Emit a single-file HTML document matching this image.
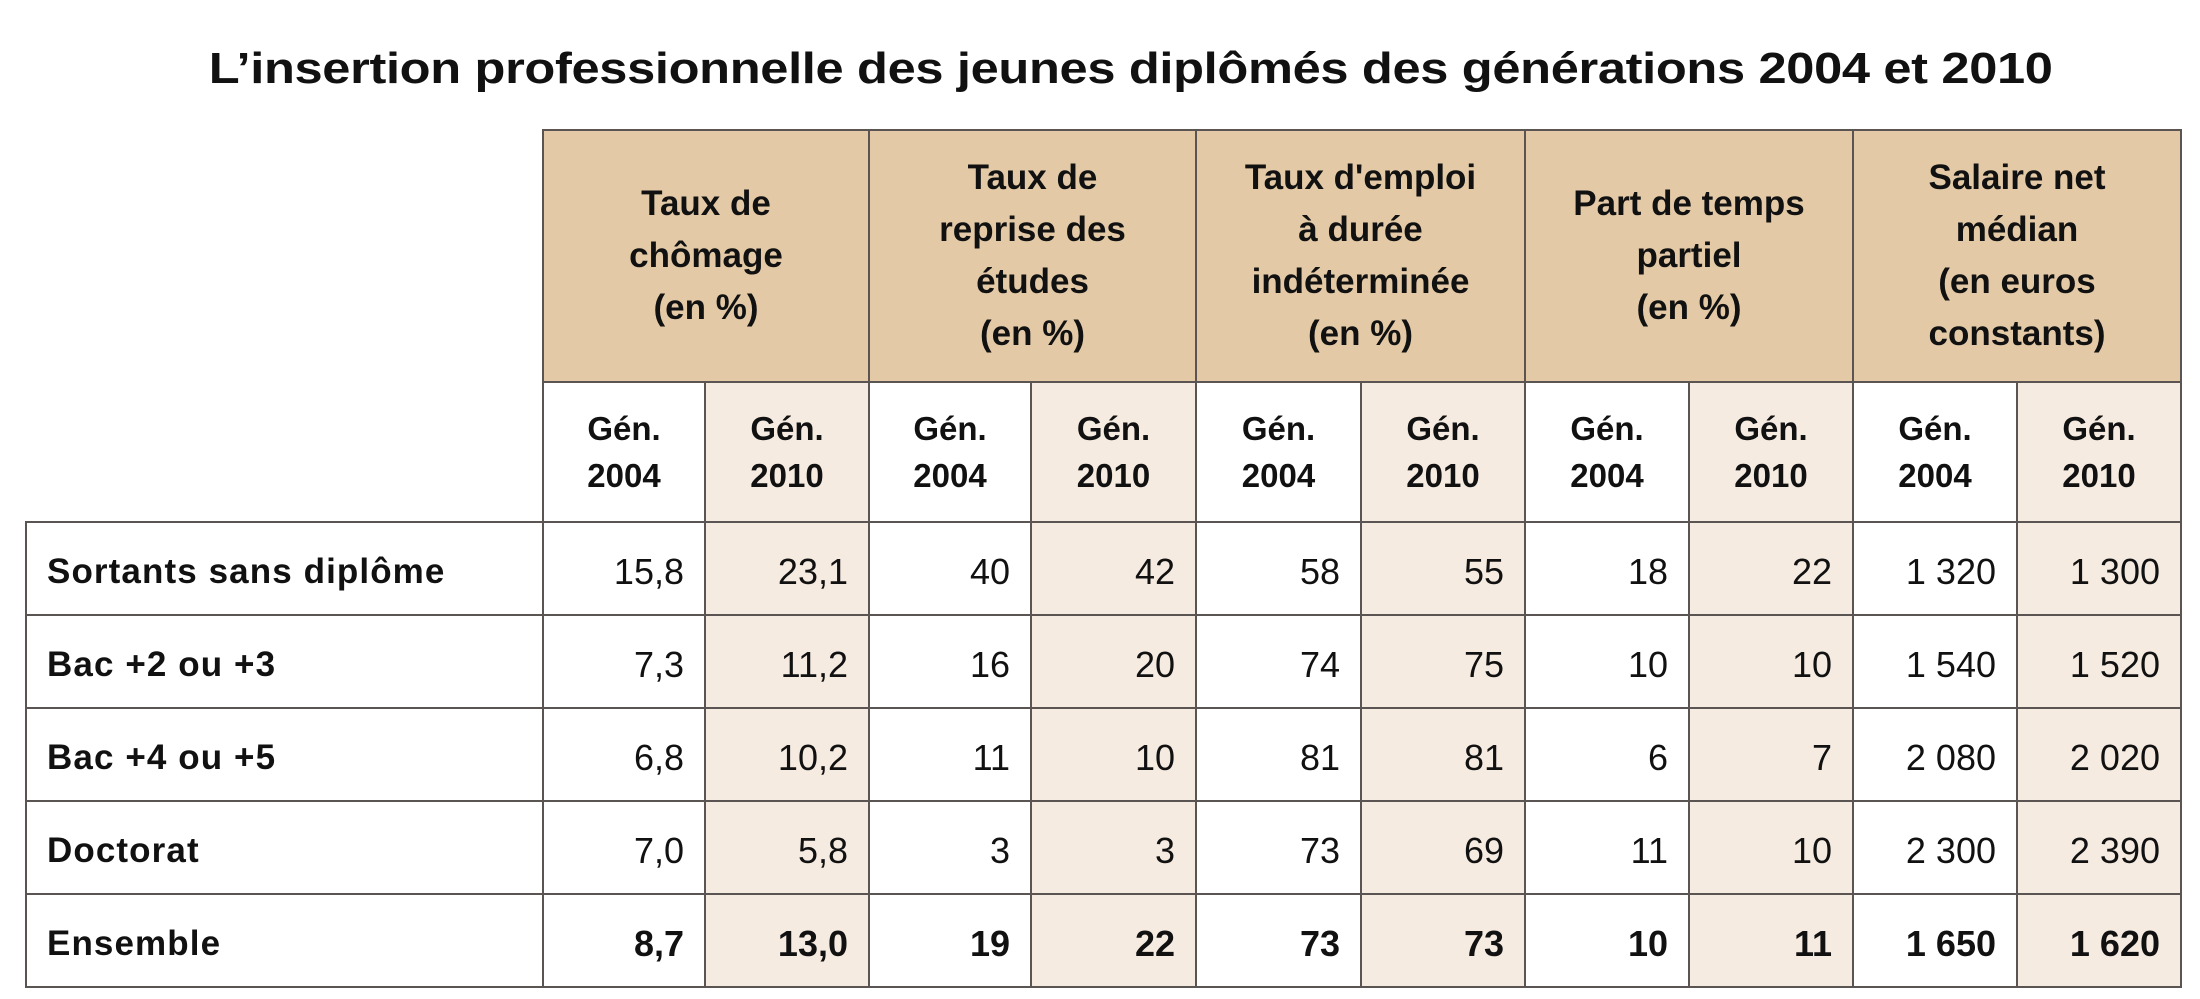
<!DOCTYPE html>
<html><head><meta charset="utf-8"><style>
html,body{margin:0;padding:0;background:#fff;width:2200px;height:999px;overflow:hidden;font-family:"Liberation Sans",Arial,sans-serif;}
h1{position:absolute;left:31px;top:44px;width:2200px;text-align:center;margin:0;font-size:44px;font-weight:bold;color:#111;}
h1 span{display:inline-block;transform:scaleX(1.15);letter-spacing:-0.3px;}
table{position:absolute;left:25px;top:129px;border-collapse:collapse;table-layout:fixed;}
td{border:2px solid #5a5552;padding:0;color:#111;}
.h{background:#e3c9a6;font-weight:bold;font-size:35px;line-height:52px;text-align:center;height:250px;}
.s{font-weight:bold;font-size:33px;line-height:47px;text-align:center;height:138px;}
.b{background:#f6ebe1;}
.v{text-align:right;padding-right:20px;font-size:36px;padding-top:6px;}
.l{font-weight:bold;font-size:35px;letter-spacing:1.1px;padding-left:20px;padding-top:6px;}
tr.d td{height:85px;}
tr.bold td{font-weight:bold;}
.e{border:none;}
.r{border-right:1px solid #9a938e !important;}
</style></head><body>
<h1><span>L’insertion professionnelle des jeunes diplômés des générations 2004 et 2010</span></h1>
<table>
<colgroup><col style="width:517px"><col style="width:162px"><col style="width:164px"><col style="width:162px"><col style="width:165px"><col style="width:165px"><col style="width:164px"><col style="width:164px"><col style="width:164px"><col style="width:164px"><col style="width:164px"></colgroup>
<tr><td class="e"></td><td class="h" colspan="2">Taux de<br>chômage<br>(en %)</td><td class="h" colspan="2">Taux de<br>reprise des<br>études<br>(en %)</td><td class="h" colspan="2">Taux d'emploi<br>à durée<br>indéterminée<br>(en %)</td><td class="h" colspan="2">Part de temps<br>partiel<br>(en %)</td><td class="h" colspan="2">Salaire net<br>médian<br>(en euros<br>constants)</td></tr>
<tr><td class="e" style="border-bottom:2px solid #5a5552"></td>
<td class="s r">Gén.<br>2004</td><td class="s b">Gén.<br>2010</td>
<td class="s r">Gén.<br>2004</td><td class="s b">Gén.<br>2010</td>
<td class="s r">Gén.<br>2004</td><td class="s b">Gén.<br>2010</td>
<td class="s r">Gén.<br>2004</td><td class="s b">Gén.<br>2010</td>
<td class="s r">Gén.<br>2004</td><td class="s b">Gén.<br>2010</td></tr>
<tr class="d"><td class="l">Sortants sans diplôme</td><td class="v r">15,8</td><td class="v b">23,1</td><td class="v r">40</td><td class="v b">42</td><td class="v r">58</td><td class="v b">55</td><td class="v r">18</td><td class="v b">22</td><td class="v r">1 320</td><td class="v b">1 300</td></tr>
<tr class="d"><td class="l">Bac +2 ou +3</td><td class="v r">7,3</td><td class="v b">11,2</td><td class="v r">16</td><td class="v b">20</td><td class="v r">74</td><td class="v b">75</td><td class="v r">10</td><td class="v b">10</td><td class="v r">1 540</td><td class="v b">1 520</td></tr>
<tr class="d"><td class="l">Bac +4 ou +5</td><td class="v r">6,8</td><td class="v b">10,2</td><td class="v r">11</td><td class="v b">10</td><td class="v r">81</td><td class="v b">81</td><td class="v r">6</td><td class="v b">7</td><td class="v r">2 080</td><td class="v b">2 020</td></tr>
<tr class="d"><td class="l">Doctorat</td><td class="v r">7,0</td><td class="v b">5,8</td><td class="v r">3</td><td class="v b">3</td><td class="v r">73</td><td class="v b">69</td><td class="v r">11</td><td class="v b">10</td><td class="v r">2 300</td><td class="v b">2 390</td></tr>
<tr class="d bold"><td class="l">Ensemble</td><td class="v r">8,7</td><td class="v b">13,0</td><td class="v r">19</td><td class="v b">22</td><td class="v r">73</td><td class="v b">73</td><td class="v r">10</td><td class="v b">11</td><td class="v r">1 650</td><td class="v b">1 620</td></tr>
</table>
</body></html>
